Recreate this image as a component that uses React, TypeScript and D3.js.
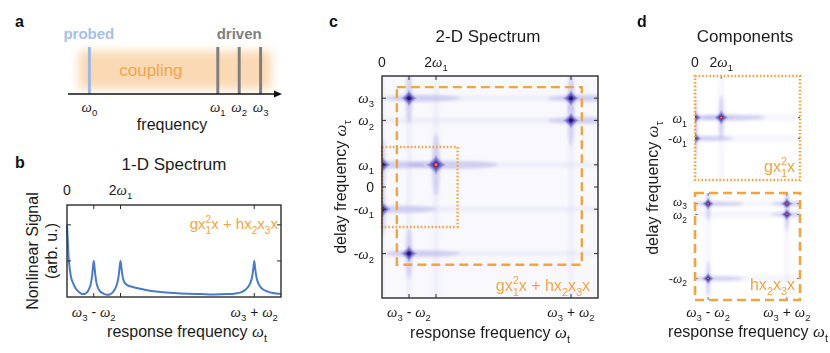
import { useEffect, useRef } from "react";
import * as d3 from "d3";

const SANS = "'Liberation Sans', Arial, sans-serif"
const SERIF = "'Liberation Serif', 'Times New Roman', serif"
const ORANGE = "#f0a443"
const INK = "#1c1c1c"
const FRAME = "#2b2b2b"

// panel a: schematic mode frequencies
const modeNames = ["0", "1", "2", "3"]
const modeFreqs = [1, 7, 8, 9]
const couplingBand = [0.5, 9.5]

// panel b: 1-D nonlinear spectrum
const specFreq = [0, 0.03, 0.06, 0.1, 0.15, 0.22, 0.3, 0.4, 0.5, 0.6, 0.7, 0.78, 0.85, 0.9, 0.94, 0.97, 1.0,
  1.03, 1.06, 1.1, 1.15, 1.22, 1.3, 1.4, 1.5, 1.6, 1.7, 1.78, 1.85, 1.9, 1.94, 1.97, 2.0,
  2.03, 2.06, 2.1, 2.15, 2.25, 2.4, 2.6, 2.8, 3.0, 3.5, 4.0, 4.5, 5.0, 5.5, 6.0, 6.3, 6.5, 6.65,
  6.78, 6.87, 6.93, 6.97, 7.0, 7.03, 7.07, 7.13, 7.22, 7.35, 7.5, 7.7, 8.0]
const specSignal = [2.0, 1.55, 1.1, 0.8, 0.55, 0.4, 0.27, 0.17, 0.11, 0.08, 0.1, 0.16, 0.27, 0.4, 0.6, 0.82, 1.0,
  0.82, 0.6, 0.4, 0.27, 0.17, 0.12, 0.08, 0.06, 0.07, 0.12, 0.2, 0.32, 0.45, 0.64, 0.84, 1.0,
  0.84, 0.66, 0.5, 0.4, 0.33, 0.29, 0.25, 0.22, 0.19, 0.14, 0.11, 0.09, 0.08, 0.07, 0.08, 0.1, 0.13, 0.19,
  0.29, 0.42, 0.6, 0.82, 1.0, 0.82, 0.6, 0.42, 0.29, 0.2, 0.15, 0.11, 0.08]
const topTicks = [0, 2]
const topLabels = ["0", "2ω_1"]
const bottomTicks = [1, 7]
const bottomLabels = ["ω_3 - ω_2", "ω_3 + ω_2"]

// panel c: 2-D spectrum peaks (response, delay, strength)
const peakResp = [0, 2, 0, 1, 7, 7, 1]
const peakDelay = [1, 1, -1, 4, 4, 3, -3]
const peakAmp = [0.75, 1, 0.75, 0.6, 0.6, 0.6, 0.6]
const cYTicks = [4, 3, 1, 0, -1, -3]
const cYLabels = ["ω_3", "ω_2", "ω_1", "0", "-ω_1", "-ω_2"]
const quadBox = [0, 2.8, -1.8, 1.8]
const cubicBox = [0.55, 7.4, -3.5, 4.5]

// panel d: the two components
const quadResp = [0, 2, 0]
const quadDelay = [1, 1, -1]
const quadAmp = [0.75, 1, 0.75]
const quadYTicks = [1, -1]
const quadYLabels = ["ω_1", "-ω_1"]
const cubicResp = [1, 7, 7, 1]
const cubicDelay = [4, 4, 3, -3]
const cubicAmp = [1, 1, 1, 1]
const cubicYTicks = [4, 3, -3]
const cubicYLabels = ["ω_3", "ω_2", "-ω_2"]

// tiny markup: ω italic, _x subscript, ^x superscript
function tokens(s) {
    const out = []
    let buf = ""
    const flush = () => { if (buf) { out.push({ s: buf, k: "n" }); buf = "" } }
    for (let i = 0; i < s.length; i++) {
        const ch = s[i]
        if (ch === "ω") { flush(); out.push({ s: "ω", k: "w" }) }
        else if (ch === "_") { flush(); out.push({ s: s[i + 1], k: "sub" }); i++ }
        else if (ch === "^") { flush(); out.push({ s: s[i + 1], k: "sup", stack: out.length && out[out.length - 1].k === "sub" }); i++ }
        else buf += ch
    }
    flush()
    return out
}

function richText(parent, x, y, spec, size, anchor = "middle", color = INK, extra = {}) {
    const t = parent.append("text")
        .attr("x", x).attr("y", y)
        .attr("text-anchor", anchor)
        .attr("fill", color)
        .style("font-family", SANS)
        .style("font-size", size + "px")
    if (extra.weight) t.style("font-weight", extra.weight)
    let shift = 0
    tokens(spec).forEach((tok) => {
        const ts = t.append("tspan").text(tok.s)
        let target = 0
        if (tok.k === "w") ts.style("font-family", SERIF).style("font-style", "italic").style("font-size", (size * 1.05) + "px")
        if (tok.k === "sub") { target = size * 0.3; ts.style("font-size", (size * 0.68) + "px") }
        if (tok.k === "sup") {
            target = -size * 0.42
            ts.style("font-size", (size * 0.68) + "px")
            if (tok.stack) ts.attr("dx", -size * 0.68 * 0.56)
        }
        ts.attr("dy", target - shift)
        shift = target
    })
    return t
}

function starPath(ax, ay, k) {
    return `M${ax},0 Q${ax * k},${ay * k} 0,${ay} Q${-ax * k},${ay * k} ${-ax},0 Q${-ax * k},${-ay * k} 0,${-ay} Q${ax * k},${-ay * k} ${ax},0 Z`
}

function drawPeaks(g, xS, yS, resp, delay, amp, R, clipId, streak) {
    const [x0, x1] = xS.range()
    const [y0, y1] = yS.range()
    const layer = g.append("g").attr("clip-path", `url(#${clipId})`)
    // long faint streaks along both axes
    const streaks = layer.append("g").attr("filter", "url(#blurStreak)")
    Array.from(new Set(delay)).forEach((d) => {
        streaks.append("line")
            .attr("x1", x0).attr("x2", x1).attr("y1", yS(d)).attr("y2", yS(d))
            .attr("stroke", "#b3b1e6").attr("stroke-width", 4).attr("opacity", streak)
    })
    Array.from(new Set(resp)).forEach((r) => {
        streaks.append("line")
            .attr("x1", xS(r)).attr("x2", xS(r)).attr("y1", y0).attr("y2", y1)
            .attr("stroke", "#b3b1e6").attr("stroke-width", 4).attr("opacity", streak * 0.85)
    })
    // brighter arms near each peak
    const arms = layer.append("g").attr("filter", "url(#blurWide)")
    resp.forEach((r, i) => {
        const s = R * (0.55 + 0.45 * amp[i])
        arms.append("ellipse").attr("cx", xS(r) + s * 1.2).attr("cy", yS(delay[i]))
            .attr("rx", s * 3.2).attr("ry", s * 0.28).attr("fill", "#a9a6e4").attr("opacity", 0.45)
        arms.append("ellipse").attr("cx", xS(r)).attr("cy", yS(delay[i]))
            .attr("rx", s * 0.28).attr("ry", s * 2.2).attr("fill", "#a9a6e4").attr("opacity", 0.4)
    })
    const levels = [
        { f: 1.0, k: 0.2, c: "#d6d4f3" },
        { f: 0.72, k: 0.34, c: "#aaa7e4" },
        { f: 0.52, k: 0.42, c: "#7c78d2" },
        { f: 0.36, k: 0.46, c: "#5a52bc" },
    ]
    const stars = layer.append("g").attr("filter", "url(#blurSoft)")
    resp.forEach((r, i) => {
        const s = R * (0.55 + 0.45 * amp[i])
        const pg = stars.append("g").attr("transform", `translate(${xS(r)},${yS(delay[i])})`)
        levels.forEach((lv) => {
            pg.append("path").attr("d", starPath(s * lv.f, s * lv.f, lv.k)).attr("fill", lv.c)
        })
        pg.append("circle").attr("r", s * 0.18).attr("fill", "#2e126f")
        if (amp[i] >= 0.9) {
            pg.append("circle").attr("r", s * 0.14).attr("fill", "#e24a3c")
            pg.append("circle").attr("r", s * 0.065).attr("fill", "#f6a445")
        }
    })
}

function frame(g, x0, y0, w, h) {
    g.append("rect").attr("x", x0).attr("y", y0).attr("width", w).attr("height", h)
        .attr("fill", "none").attr("stroke", FRAME).attr("stroke-width", 1.4)
}

function orangeBox(g, xS, yS, box, dash, width) {
    g.append("rect")
        .attr("x", xS(box[0])).attr("y", yS(box[3]))
        .attr("width", xS(box[1]) - xS(box[0])).attr("height", yS(box[2]) - yS(box[3]))
        .attr("fill", "none").attr("stroke", ORANGE).attr("stroke-width", width)
        .attr("stroke-dasharray", dash)
}

const App = () => {
    const svgRef = useRef(null)

    useEffect(() => {
        const svg = d3.select(svgRef.current)
        svg.selectAll("*").remove()
        svg.style("font-family", SANS)

        const defs = svg.append("defs")
        defs.append("filter").attr("id", "blurBand").attr("x", "-20%").attr("y", "-60%").attr("width", "140%").attr("height", "220%")
            .append("feGaussianBlur").attr("stdDeviation", 5)
        defs.append("filter").attr("id", "blurStreak").attr("x", "-50%").attr("y", "-50%").attr("width", "200%").attr("height", "200%")
            .append("feGaussianBlur").attr("stdDeviation", 2.2)
        defs.append("filter").attr("id", "blurWide").attr("x", "-50%").attr("y", "-50%").attr("width", "200%").attr("height", "200%")
            .append("feGaussianBlur").attr("stdDeviation", 1.6)
        defs.append("filter").attr("id", "blurSoft").attr("x", "-50%").attr("y", "-50%").attr("width", "200%").attr("height", "200%")
            .append("feGaussianBlur").attr("stdDeviation", 0.6)

        // ---------- panel a ----------
        const ga = svg.append("g")
        richText(ga, 15, 27, "a", 16, "start", "#111", { weight: "bold" })
        const xA = d3.scaleLinear([0, 10], [68, 282])
        ga.append("rect")
            .attr("x", xA(couplingBand[0])).attr("y", 51)
            .attr("width", xA(couplingBand[1]) - xA(couplingBand[0])).attr("height", 38)
            .attr("fill", "#f8c995").attr("opacity", 0.7).attr("filter", "url(#blurBand)")
        richText(ga, (xA(couplingBand[0]) + xA(6.5)) / 2 + 8, 76, "coupling", 17, "middle", "#eea54f")
        modeFreqs.forEach((f, i) => {
            ga.append("line").attr("x1", xA(f)).attr("x2", xA(f)).attr("y1", 47).attr("y2", 94)
                .attr("stroke", i === 0 ? "#9db9e3" : "#7f7f7f").attr("stroke-width", 3)
            richText(ga, xA(f), 112, "ω_" + modeNames[i], 14)
        })
        richText(ga, xA(modeFreqs[0]) - 26, 39, "probed", 15, "start", "#a6c0e6", { weight: "bold" })
        richText(ga, (xA(modeFreqs[1]) + xA(modeFreqs[3])) / 2, 39, "driven", 15, "middle", "#7f7f7f", { weight: "bold" })
        ga.append("line").attr("x1", xA(0)).attr("x2", xA(10) - 4).attr("y1", 94).attr("y2", 94)
            .attr("stroke", "#111").attr("stroke-width", 1.5)
        ga.append("path").attr("d", `M${xA(10)},94 l-8,-3.5 l0,7 Z`).attr("fill", "#111")
        richText(ga, 172, 130, "frequency", 16)

        // ---------- panel b ----------
        const gb = svg.append("g")
        richText(gb, 15, 168, "b", 16, "start", "#111", { weight: "bold" })
        const xB = d3.scaleLinear([0, 8], [67, 281])
        const yB = d3.scaleLinear([0, 2.55], [297, 205])
        richText(gb, 174, 170, "1-D Spectrum", 17)
        gb.append("path")
            .datum(specFreq.map((f, i) => [f, specSignal[i]]))
            .attr("d", d3.line().x((d) => xB(d[0])).y((d) => yB(d[1])).curve(d3.curveMonotoneX))
            .attr("fill", "none").attr("stroke", "#4a7bc8").attr("stroke-width", 2)
        frame(gb, 67, 205, 214, 92)
        ;[1, 2, 7].forEach((t) => {
            gb.append("line").attr("x1", xB(t)).attr("x2", xB(t)).attr("y1", 297).attr("y2", 293).attr("stroke", FRAME)
            gb.append("line").attr("x1", xB(t)).attr("x2", xB(t)).attr("y1", 205).attr("y2", 209).attr("stroke", FRAME)
        })
        ;[1, 2].forEach((t) => {
            gb.append("line").attr("x1", 67).attr("x2", 71).attr("y1", yB(t)).attr("y2", yB(t)).attr("stroke", FRAME)
            gb.append("line").attr("x1", 281).attr("x2", 277).attr("y1", yB(t)).attr("y2", yB(t)).attr("stroke", FRAME)
        })
        topTicks.forEach((t, i) => richText(gb, xB(t), 195, topLabels[i], 14))
        bottomTicks.forEach((t, i) => richText(gb, xB(t), 317, bottomLabels[i], 14))
        richText(gb, 187, 337, "response frequency ω_t", 16)
        const yl = gb.append("g").attr("transform", `translate(38,251) rotate(-90)`)
        richText(yl, 0, 0, "Nonlinear Signal", 16)
        richText(yl, 0, 19, "(arb. u.)", 16)
        richText(gb, 278, 229, "gx_1^2x + hx_2x_3x", 15, "end", ORANGE)

        // ---------- panel c ----------
        const gc = svg.append("g")
        richText(gc, 329, 27, "c", 16, "start", "#111", { weight: "bold" })
        const xC = d3.scaleLinear([0, 8], [382, 598])
        const yC = d3.scaleLinear([-5, 5], [298, 76])
        defs.append("clipPath").attr("id", "clipC").append("rect").attr("x", 382).attr("y", 76).attr("width", 216).attr("height", 222)
        gc.append("rect").attr("x", 382).attr("y", 76).attr("width", 216).attr("height", 222).attr("fill", "#f9f9fd")
        drawPeaks(gc, xC, yC, peakResp, peakDelay, peakAmp, 14, "clipC", 0.22)
        orangeBox(gc, xC, yC, quadBox, "1.6 2", 2.4)
        orangeBox(gc, xC, yC, cubicBox, "9 5", 2.4)
        frame(gc, 382, 76, 216, 222)
        ;[1, 2, 7].forEach((t) => {
            gc.append("line").attr("x1", xC(t)).attr("x2", xC(t)).attr("y1", 298).attr("y2", 294).attr("stroke", FRAME)
            gc.append("line").attr("x1", xC(t)).attr("x2", xC(t)).attr("y1", 76).attr("y2", 80).attr("stroke", FRAME)
        })
        cYTicks.forEach((t, i) => {
            gc.append("line").attr("x1", 382).attr("x2", 386).attr("y1", yC(t)).attr("y2", yC(t)).attr("stroke", FRAME)
            gc.append("line").attr("x1", 598).attr("x2", 594).attr("y1", yC(t)).attr("y2", yC(t)).attr("stroke", FRAME)
            richText(gc, 374, yC(t) + 5, cYLabels[i], 14, "end")
        })
        richText(gc, 488, 42, "2-D Spectrum", 17)
        topTicks.forEach((t, i) => richText(gc, xC(t), 67, topLabels[i], 14))
        bottomTicks.forEach((t, i) => richText(gc, xC(t), 317, bottomLabels[i], 14))
        richText(gc, 490, 338, "response frequency ω_t", 16)
        const ylc = gc.append("g").attr("transform", `translate(346,187) rotate(-90)`)
        richText(ylc, 0, 0, "delay frequency ω_τ", 16)
        richText(gc, 590, 291, "gx_1^2x + hx_2x_3x", 16, "end", ORANGE)

        // ---------- panel d ----------
        const gd = svg.append("g")
        richText(gd, 637, 27, "d", 16, "start", "#111", { weight: "bold" })
        const xD = d3.scaleLinear([0, 8], [695, 800])
        const yDq = d3.scaleLinear([-5, 5], [180, 76])
        const yDc = d3.scaleLinear([-5, 5], [300, 193])
        defs.append("clipPath").attr("id", "clipDq").append("rect").attr("x", 695).attr("y", 76).attr("width", 105).attr("height", 104)
        defs.append("clipPath").attr("id", "clipDc").append("rect").attr("x", 695).attr("y", 193).attr("width", 105).attr("height", 107)
        drawPeaks(gd, xD, yDq, quadResp, quadDelay, quadAmp, 10, "clipDq", 0.2)
        drawPeaks(gd, xD, yDc, cubicResp, cubicDelay, cubicAmp, 8, "clipDc", 0.2)
        // small grey tick marks
        ;[2].forEach((t) => gd.append("line").attr("x1", xD(t)).attr("x2", xD(t)).attr("y1", 76).attr("y2", 79).attr("stroke", "#777"))
        quadYTicks.forEach((t) => {
            gd.append("line").attr("x1", 798).attr("x2", 800).attr("y1", yDq(t)).attr("y2", yDq(t)).attr("stroke", "#555")
            gd.append("line").attr("x1", 695).attr("x2", 697).attr("y1", yDq(t)).attr("y2", yDq(t)).attr("stroke", "#555")
        })
        ;[1, 7].forEach((t) => {
            gd.append("line").attr("x1", xD(t)).attr("x2", xD(t)).attr("y1", 193).attr("y2", 196).attr("stroke", "#777")
            gd.append("line").attr("x1", xD(t)).attr("x2", xD(t)).attr("y1", 300).attr("y2", 297).attr("stroke", "#777")
        })
        cubicYTicks.forEach((t) => {
            gd.append("line").attr("x1", 695).attr("x2", 698).attr("y1", yDc(t)).attr("y2", yDc(t)).attr("stroke", "#777")
            gd.append("line").attr("x1", 800).attr("x2", 797).attr("y1", yDc(t)).attr("y2", yDc(t)).attr("stroke", "#777")
        })
        orangeBox(gd, xD, yDq, [0, 8, -5, 5], "1.6 2", 2.6)
        orangeBox(gd, xD, yDc, [0, 8, -5, 5], "9 5", 2.6)
        richText(gd, 745, 42, "Components", 17)
        topTicks.forEach((t, i) => richText(gd, xD(t), 67, topLabels[i], 14))
        quadYTicks.forEach((t, i) => richText(gd, 687, yDq(t) + 5, quadYLabels[i], 13, "end"))
        cubicYTicks.forEach((t, i) => richText(gd, 687, yDc(t) + 4 + (i === 0 ? -2 : i === 1 ? 1 : 0), cubicYLabels[i], 12.5, "end"))
        bottomTicks.forEach((t, i) => richText(gd, xD(t), 317, bottomLabels[i], 14))
        richText(gd, 748, 337, "response frequency ω_t", 16)
        const yld = gd.append("g").attr("transform", `translate(658,188) rotate(-90)`)
        richText(yld, 0, 0, "delay frequency ω_τ", 16)
        richText(gd, 795, 172, "gx_1^2x", 16, "end", ORANGE)
        richText(gd, 795, 290, "hx_2x_3x", 16, "end", ORANGE)
    }, [])

    return <svg ref={svgRef} width={830} height={353}
        style={{ position: "absolute", left: 0, top: 0, background: "#fff" }}></svg>
}

export default App;
